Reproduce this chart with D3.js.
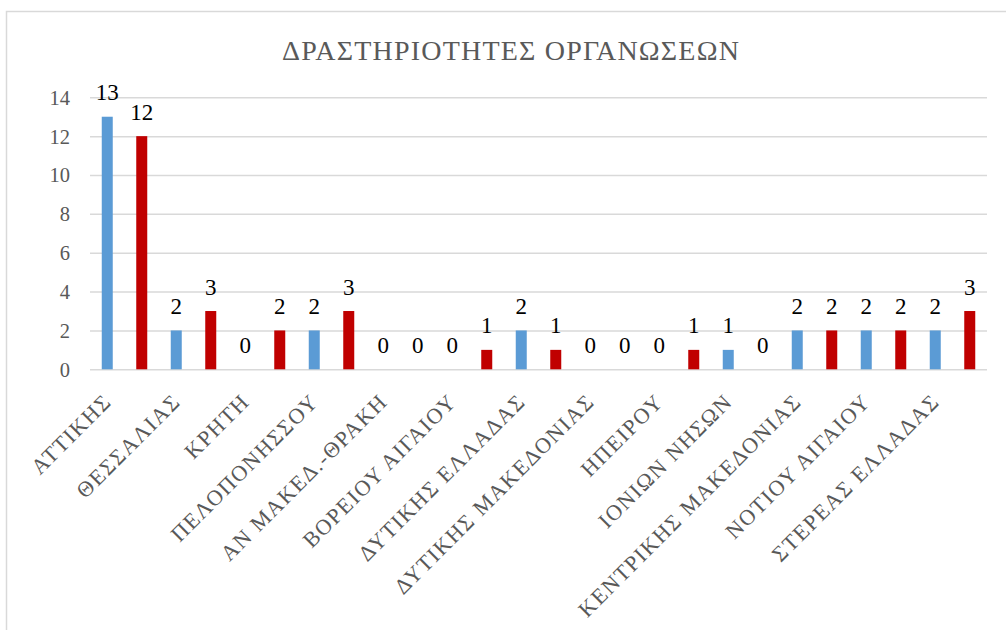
<!DOCTYPE html>
<html>
<head>
<meta charset="utf-8">
<script src="https://cdn.jsdelivr.net/npm/d3@7"></script>
<style>
  html, body { margin: 0; padding: 0; background: #fff; }
  svg { display: block; }
</style>
</head>
<body>
<svg id="chart" width="1006" height="630"></svg>
<script>
const title = "ΔΡΑΣΤΗΡΙΟΤΗΤΕΣ ΟΡΓΑΝΩΣΕΩΝ";
const categories = ["ΑΤΤΙΚΗΣ", "ΘΕΣΣΑΛΙΑΣ", "ΚΡΗΤΗ", "ΠΕΛΟΠΟΝΗΣΣΟΥ", "ΑΝ ΜΑΚΕΔ.-ΘΡΑΚΗ",
  "ΒΟΡΕΙΟΥ ΑΙΓΑΙΟΥ", "ΔΥΤΙΚΗΣ ΕΛΛΑΔΑΣ", "ΔΥΤΙΚΗΣ ΜΑΚΕΔΟΝΙΑΣ", "ΗΠΕΙΡΟΥ", "ΙΟΝΙΩΝ ΝΗΣΩΝ",
  "ΚΕΝΤΡΙΚΗΣ ΜΑΚΕΔΟΝΙΑΣ", "ΝΟΤΙΟΥ ΑΙΓΑΙΟΥ", "ΣΤΕΡΕΑΣ ΕΛΛΑΔΑΣ"];
const seriesNames = ["s1", "s2"];
const seriesBlue = [13, 2, 0, 2, 0, 0, 2, 0, 0, 1, 2, 2, 2];
const seriesRed  = [12, 3, 2, 3, 0, 1, 1, 0, 1, 0, 2, 2, 3];
const yTicks = [0, 2, 4, 6, 8, 10, 12, 14];
const colors = ["#5B9BD5", "#C00000"];

const FONT = "'Liberation Serif'";
const svg = d3.select("#chart");
const W = 1006, H = 630;
const margin = { left: 90, right: W - 987, top: 97.3, bottom: H - 369.3 };

// chart border
svg.append("rect").attr("x", 6.5).attr("y", 11.5).attr("width", 1010).attr("height", 640)
  .attr("fill", "none").attr("stroke", "#D9D9D9").attr("stroke-width", 1.5);

const x = d3.scaleBand().domain(categories).range([margin.left, W - margin.right]).padding(0);
const xs = d3.scaleBand().domain(seriesNames).range([0, x.bandwidth()]).paddingInner(0).paddingOuter(0);
const y = d3.scaleLinear().domain([0, 14]).range([H - margin.bottom, margin.top]);

// gridlines
const grid = svg.append("g").attr("transform", `translate(${margin.left},0)`)
  .call(d3.axisLeft(y).tickValues(yTicks).tickSize(-(W - margin.right - margin.left)).tickFormat(""));
grid.select(".domain").remove();
grid.selectAll("line").attr("stroke", "#D9D9D9").attr("stroke-width", 1.5);

// y tick labels
const yAx = svg.append("g").attr("transform", `translate(${margin.left},0)`)
  .call(d3.axisLeft(y).tickValues(yTicks).tickSize(0).tickPadding(20));
yAx.attr("font-family", null).attr("font-size", null);
yAx.select(".domain").remove();
yAx.selectAll("text")
  .style("font-family", FONT).style("font-size", "20.5px")
  .attr("fill", "#595959").attr("dy", "0.34em");

const data = [];
categories.forEach((c, i) => {
  data.push({ cat: c, s: "s1", v: seriesBlue[i], color: colors[0] });
  data.push({ cat: c, s: "s2", v: seriesRed[i], color: colors[1] });
});

// bars
const barW = 11;
svg.append("g").selectAll("rect").data(data).join("rect")
  .attr("x", d => x(d.cat) + xs(d.s) + xs.bandwidth() / 2 - barW / 2)
  .attr("width", barW)
  .attr("y", d => y(d.v))
  .attr("height", d => y(0) - y(d.v))
  .attr("fill", d => d.color);

// data labels
svg.append("g").selectAll("text").data(data).join("text")
  .attr("x", d => x(d.cat) + xs(d.s) + xs.bandwidth() / 2)
  .attr("y", d => y(d.v) - 16.5)
  .attr("text-anchor", "middle")
  .style("font-family", FONT).style("font-size", "23px")
  .attr("fill", "#000")
  .text(d => d.v);

// category labels, rotated
svg.append("g").selectAll("text").data(categories).join("text")
  .attr("transform", d => `translate(${x(d) + xs("s1") + xs.bandwidth() / 2 + 5.5},403) rotate(-45)`)
  .attr("text-anchor", "end")
  .style("font-family", FONT).style("font-size", "22px").style("letter-spacing", "1.5px")
  .attr("fill", "#595959")
  .text(d => d);

// title
svg.append("text").attr("x", 511).attr("y", 59.5).attr("text-anchor", "middle")
  .style("font-family", FONT).style("font-size", "28px").style("letter-spacing", "1.2px")
  .attr("fill", "#595959")
  .text(title);
</script>
</body>
</html>
